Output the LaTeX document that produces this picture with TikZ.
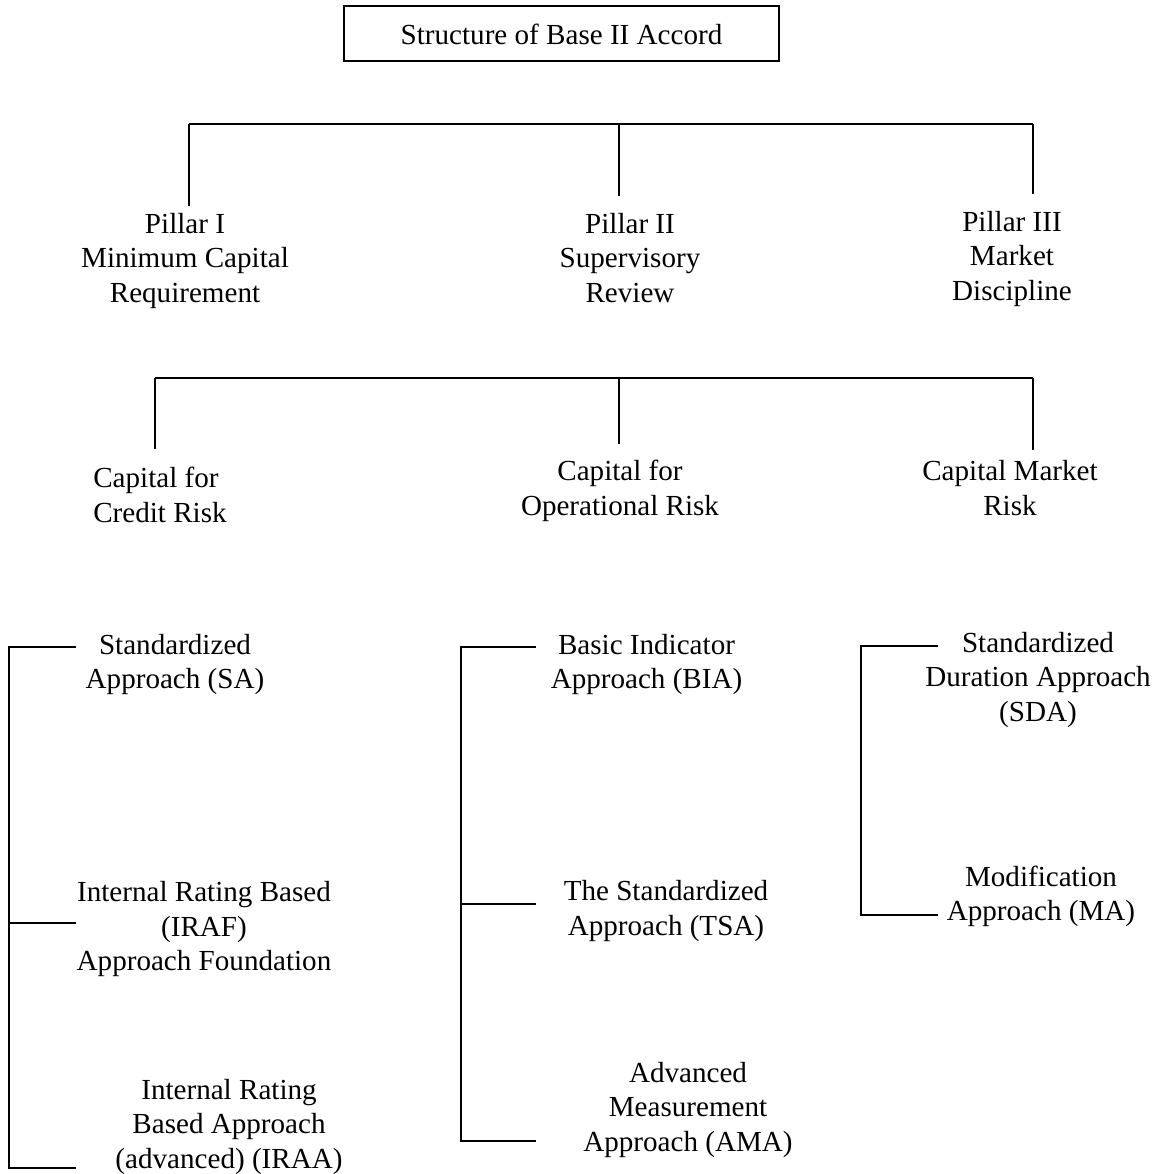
\documentclass[tikz,border=0pt]{standalone}
\usepackage{fontspec}
\setmainfont{Liberation Serif}
\begin{document}
\begin{tikzpicture}[x=0.5pt,y=-0.5pt,
  every node/.style={font=\fontsize{14.55}{17.25}\selectfont, inner sep=0pt},
  lbl/.style={align=center},
  lbll/.style={align=left},
  conn/.style={line width=1pt},
  titlebox/.style={draw, line width=1pt, minimum width=217.5pt, minimum height=27.5pt, text height=10.8pt, text depth=0pt}
]
\useasboundingbox (0,0) rectangle (1157,1174);

% title
\node[titlebox] (title) at (561.5,33.5) {Structure of Base II Accord};

% level 1
\node[lbl] (p1) at (185,260.6) {\strut Pillar I\\Minimum Capital\\Requirement\strut};
\node[lbl] (p2) at (630,260.6) {\strut Pillar II\\Supervisory\\Review\strut};
\node[lbl] (p3) at (1012,258.6) {\strut Pillar III\\Market\\Discipline\strut};

\coordinate (j1) at (189,124);
\coordinate (j2) at (619,124);
\coordinate (j3) at (1033,124);
\draw[conn] (j1) -- (j3);
\draw[conn, shorten >=1pt] (j1) -- (j1 |- p1.north);
\draw[conn, shorten >=6pt] (j2) -- (j2 |- p2.north);
\draw[conn, shorten >=6pt] (j3) -- (j3 |- p3.north);

% level 2
\node[lbll] (c1) at (160,498) {\strut Capital for\\Credit Risk\strut};
\node[lbl] (c2) at (620,491) {\strut Capital for\\Operational Risk\strut};
\node[lbl] (c3) at (1010,491) {\strut Capital Market\\Risk\strut};

\coordinate (k1) at (155,378);
\coordinate (k2) at (619,378);
\coordinate (k3) at (1033,378);
\draw[conn] (k1) -- (k3);
\draw[conn, shorten >=7pt] (k1) -- (k1 |- c1.north);
\draw[conn, shorten >=6pt] (k2) -- (k2 |- c2.north);
\draw[conn, shorten >=3pt] (k3) -- (k3 |- c3.north);

% level 3: credit risk
\node[lbl] (sa) at (175,664.6) {\strut Standardized\\Approach (SA)\strut};
\node[lbl] (iraf) at (204,929.4) {\strut Internal Rating Based\\(IRAF)\\Approach Foundation\strut};
\node[lbl] (iraa) at (229,1127) {\strut Internal Rating\\Based Approach\\(advanced) (IRAA)\strut};
\coordinate (a1) at (9,647);
\coordinate (a2) at (9,923);
\coordinate (a3) at (9,1168);
\coordinate (a1e) at (76,647);
\coordinate (a2e) at (76,923);
\coordinate (a3e) at (76,1168);
\draw[conn] (a1e) -- (a1) -- (a3) -- (a3e);
\draw[conn] (a2) -- (a2e);

% level 3: operational risk
\node[lbl] (bia) at (646.5,664.4) {\strut Basic Indicator\\Approach (BIA)\strut};
\node[lbl] (tsa) at (666,911) {\strut The Standardized\\Approach (TSA)\strut};
\node[lbl] (ama) at (688,1109.6) {\strut Advanced\\Measurement\\Approach (AMA)\strut};
\coordinate (b1) at (461,646.5);
\coordinate (b2) at (461,904);
\coordinate (b3) at (461,1140.5);
\coordinate (b1e) at (536,646.5);
\coordinate (b2e) at (536,904);
\coordinate (b3e) at (536,1140.5);
\draw[conn] (b1e) -- (b1) -- (b3) -- (b3e);
\draw[conn] (b2) -- (b2e);

% level 3: market risk
\node[lbl] (sda) at (1038,679.6) {\strut Standardized\\Duration Approach\\(SDA)\strut};
\node[lbl] (ma) at (1041,896.6) {\strut Modification\\Approach (MA)\strut};
\coordinate (m1) at (861,646);
\coordinate (m2) at (861,915);
\coordinate (m1e) at (938,646);
\coordinate (m2e) at (938,915);
\draw[conn] (m1e) -- (m1) -- (m2) -- (m2e);
\end{tikzpicture}
\end{document}
